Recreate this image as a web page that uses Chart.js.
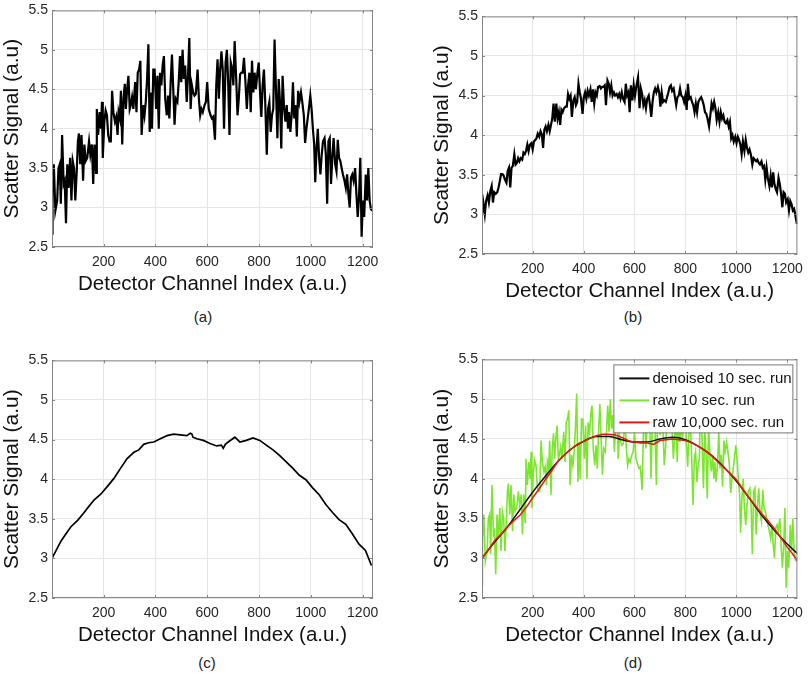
<!DOCTYPE html>
<html>
<head>
<meta charset="utf-8">
<script src="https://cdn.jsdelivr.net/npm/chart.js@4.4.1/dist/chart.umd.min.js"></script>
<style>
  body { margin: 0; background: #fff; width: 810px; height: 673px; position: relative; overflow: hidden;
         font-family: "Liberation Sans", Arial, sans-serif; }
  canvas { position: absolute; }
  .cap { position: absolute; font-size: 15px; color: #222; transform: translate(-50%, -50%); }
</style>
</head>
<body>
<canvas id="pa"></canvas>
<canvas id="pb"></canvas>
<canvas id="pc"></canvas>
<canvas id="pd"></canvas>
<div class="cap" style="left:203px;top:316px">(a)</div>
<div class="cap" style="left:633px;top:316px">(b)</div>
<div class="cap" style="left:207px;top:662px">(c)</div>
<div class="cap" style="left:633px;top:662px">(d)</div>

<script>
/* ---- axes ---- */
var xTicks = [200, 400, 600, 800, 1000, 1200];
var yTicks = [2.5, 3, 3.5, 4, 4.5, 5, 5.5];
var xTitle = 'Detector Channel Index (a.u.)';
var yTitle = 'Scatter Signal (a.u)';

/* ---- raw 10 sec. run: panel (a) and green line in (d) ---- */
var rawCh = [1,3,8,14,21,26,31,35,40,46,50,55,60,65,71,76,81,86,91,97,101,105,110,115,121,126,131,137,144,149,155,160,165,171,174,179,185,190,194,197,
  203,208,213,218,223,228,233,238,244,249,254,258,263,267,272,277,282,286,291,296,301,305,310,315,322,327,332,337,342,347,353,358,363,368,373,378,383,387,392,397,
  403,408,413,418,423,428,433,438,444,449,454,459,464,469,474,479,485,490,495,500,505,510,515,521,526,531,536,541,546,551,556,563,568,573,578,583,590,595,600,606,
  613,618,623,630,635,640,645,650,655,660,665,671,676,681,686,691,697,701,706,712,717,722,727,732,737,742,747,753,758,763,768,773,778,783,788,794,799,804,809,814,
  819,824,830,835,840,845,850,855,860,865,871,876,881,886,891,897,902,907,912,916,921,926,931,936,941,946,951,956,962,967,973,978,983,988,994,998,1003,1008,1013,1017,
  1022,1027,1032,1037,1042,1047,1053,1058,1063,1068,1073,1078,1083,1088,1094,1099,1104,1109,1114,1119,1124,1130,1135,1140,1145,1150,1155,1160,1165,1171,1176,1181,1186,1191,1196,1201,1206,1212,1217,1222,1227,1232,1238];
var rawSignal = [2.67,3.25,3.55,2.96,3.09,3.5,3.55,3.05,3.92,3.3,3.34,2.8,3.55,3.25,3.63,3.09,3.59,3.5,3.09,3.5,3.84,3.94,3.55,3.92,3.34,3.8,3.59,3.63,3.84,3.67,3.8,3.3,3.8,3.44,4.25,3.92,4.21,4.0,4.34,3.63,
  4.09,4.23,4.17,3.92,3.84,3.84,4.48,4.21,4.09,4.15,3.92,4.21,4.13,4.48,3.8,4.38,4.57,4.25,4.5,4.67,4.25,4.3,4.4,4.25,4.59,4.21,4.71,4.75,4.86,3.92,4.3,4.17,4.34,4.63,5.07,3.96,4.46,4.0,4.75,4.75,
  4.25,4.67,4.0,4.71,4.55,4.8,4.92,4.38,4.17,4.42,4.13,4.59,4.94,4.5,4.05,4.38,4.34,4.59,4.92,4.59,5.0,4.63,4.8,4.34,4.67,5.15,4.25,4.55,4.46,4.42,4.44,4.75,4.38,4.17,4.25,4.21,4.3,4.34,4.59,4.25,
  4.17,4.13,4.15,3.86,4.55,4.88,4.38,4.75,4.98,4.75,4.0,4.84,5.0,4.59,3.92,4.84,4.75,4.55,5.11,4.63,4.17,4.38,4.69,4.71,4.71,4.9,4.63,4.25,4.55,4.71,4.21,4.86,4.46,4.71,4.5,4.71,4.84,4.46,4.15,4.55,
  4.75,4.34,3.67,4.25,4.34,3.96,4.17,4.25,5.13,4.55,3.88,4.63,4.34,3.75,4.67,4.25,4.09,4.3,4.0,4.21,3.96,4.17,4.59,4.13,4.3,3.9,4.48,4.34,4.46,4.34,4.17,3.82,4.0,4.13,4.3,4.42,4.25,4.0,3.8,3.32,
  3.75,4.0,3.63,3.42,3.67,3.84,3.88,3.67,3.05,3.84,3.88,3.3,3.63,3.88,3.55,3.46,3.86,3.63,3.59,3.5,3.42,3.34,3.25,3.42,3.17,3.0,3.38,3.42,3.34,3.5,3.17,2.88,3.13,3.63,2.63,3.09,2.88,3.42,3.09,3.5,3.09,2.98,2.96];

/* ---- panel (b) ---- */
var midCh = [1,6,12,17,23,28,34,39,44,49,55,61,66,71,76,81,86,91,97,102,107,112,117,122,128,133,138,143,148,153,159,164,169,174,179,184,189,195,200,205,
  210,215,220,226,231,236,241,246,251,256,262,267,272,277,282,287,293,298,303,308,313,318,323,329,334,339,344,349,354,360,365,370,375,380,385,390,396,401,406,411,
  416,421,427,432,437,442,447,452,457,463,468,473,478,483,488,494,499,504,509,514,519,524,530,535,540,545,550,555,561,566,571,576,581,586,592,597,602,607,614,620,
  625,630,635,640,645,650,656,661,666,671,676,681,686,692,697,702,707,712,717,723,728,733,738,743,748,754,759,764,769,774,779,784,790,795,800,805,810,815,821,826,
  831,836,841,846,851,857,862,867,872,877,882,887,893,898,903,908,913,918,923,929,934,939,944,949,954,959,965,970,975,980,985,990,996,1001,1006,1011,1016,1021,1026,1032,
  1037,1042,1047,1052,1057,1063,1068,1073,1078,1083,1088,1093,1099,1104,1109,1114,1119,1124,1130,1135,1140,1145,1150,1155,1160,1166,1171,1176,1181,1186,1191,1196,1202,1207,1212,1217,1222,1227,1232,1238];
var midSignal = [3.01,3.15,3.0,3.17,3.24,3.15,3.3,3.36,3.15,3.28,3.26,3.28,3.34,3.42,3.51,3.51,3.49,3.44,3.4,3.55,3.59,3.34,3.59,3.61,3.76,3.63,3.65,3.71,3.67,3.71,3.69,3.78,3.76,3.8,3.88,3.8,3.88,3.9,3.82,3.92,
  3.94,3.96,4.02,3.98,4.05,4.01,3.84,4.07,4.11,4.05,4.13,4.05,4.13,4.21,4.4,4.17,4.4,4.21,4.29,4.13,4.32,4.29,4.34,4.36,4.36,4.52,4.46,4.5,4.23,4.44,4.48,4.38,4.42,4.65,4.54,4.46,4.27,4.48,4.54,4.46,
  4.56,4.5,4.58,4.42,4.58,4.4,4.54,4.5,4.61,4.62,4.59,4.61,4.61,4.63,4.38,4.69,4.65,4.54,4.63,4.5,4.54,4.5,4.52,4.48,4.52,4.46,4.54,4.46,4.42,4.65,4.5,4.54,4.29,4.63,4.44,4.63,4.5,4.61,4.73,4.34,
  4.59,4.52,4.38,4.44,4.34,4.46,4.5,4.38,4.23,4.42,4.54,4.59,4.54,4.61,4.54,4.36,4.54,4.42,4.44,4.42,4.48,4.54,4.61,4.63,4.56,4.59,4.48,4.38,4.48,4.5,4.59,4.5,4.48,4.42,4.5,4.32,4.65,4.46,4.48,4.42,
  4.38,4.29,4.4,4.29,4.42,4.46,4.48,4.44,4.38,4.29,4.27,4.21,4.11,4.25,4.4,4.34,4.42,4.34,4.19,4.29,4.17,4.29,4.21,4.25,4.17,4.15,4.19,4.11,4.17,3.96,4.0,3.92,3.98,3.9,3.98,3.94,3.88,3.76,3.92,3.8,
  3.94,3.84,3.78,3.82,3.76,3.63,3.71,3.69,3.67,3.69,3.65,3.63,3.67,3.59,3.61,3.44,3.59,3.46,3.36,3.49,3.34,3.53,3.38,3.32,3.28,3.46,3.38,3.26,3.09,3.28,3.26,3.15,3.19,3.05,3.17,3.13,3.05,3.07,2.99,2.88];

/* ---- panel (c) ---- */
var longCh = [1,17,36,55,74,100,125,144,164,189,215,240,266,291,317,336,355,374,394,419,445,470,496,521,535,541,545,560,585,611,636,655,662,670,681,707,726,751,777,803,
  828,854,879,905,930,956,982,1007,1033,1058,1084,1109,1135,1160,1186,1211,1234];
var longSignal = [3.0,3.1,3.22,3.31,3.4,3.48,3.58,3.66,3.74,3.81,3.91,4.01,4.14,4.26,4.34,4.37,4.44,4.46,4.47,4.51,4.55,4.57,4.56,4.55,4.58,4.57,4.53,4.51,4.49,4.45,4.42,4.43,4.39,4.44,4.47,4.53,4.47,4.49,4.52,4.49,
  4.43,4.37,4.3,4.22,4.14,4.05,3.99,3.89,3.8,3.68,3.58,3.49,3.43,3.31,3.18,3.1,2.91];

/* ---- panel (d): denoised 10 sec. run and raw 10,000 sec. run ---- */
var denoisedCh = [1,50,100,150,200,250,300,350,400,450,500,550,600,650,700,750,800,850,900,950,1000,1050,1100,1150,1200,1240];
var denoisedSignal = [3.0,3.2,3.39,3.61,3.83,4.03,4.22,4.37,4.47,4.53,4.53,4.49,4.46,4.46,4.5,4.52,4.49,4.41,4.3,4.15,3.97,3.76,3.54,3.35,3.18,3.06];
var refCh = [1,25,50,75,100,125,150,175,200,225,250,275,300,325,350,375,400,425,450,475,500,525,550,575,600,625,650,675,700,725,750,775,800,825,850,875,900,925,950,975,
  1000,1025,1050,1075,1100,1125,1150,1175,1200,1220,1240];
var refSignal = [3.0,3.1,3.22,3.3,3.39,3.47,3.54,3.64,3.76,3.87,3.99,4.1,4.22,4.3,4.37,4.43,4.47,4.51,4.54,4.56,4.56,4.55,4.52,4.48,4.46,4.45,4.45,4.43,4.48,4.49,4.5,4.49,4.48,4.45,4.41,4.36,4.3,4.22,4.14,4.07,
  3.99,3.87,3.76,3.66,3.56,3.47,3.37,3.26,3.14,3.06,2.97];

var legendLabels = ['denoised 10 sec. run', 'raw 10 sec. run', 'raw 10,000 sec. run'];
var legendColors = ['#111111', '#7ce62e', '#e8170f'];

var FONT = '"Liberation Sans", Arial, sans-serif';

function pts(xs, ys) {
  return xs.map(function(x, i) { return { x: x, y: ys[i] }; });
}

// MATLAB-like box with small inward ticks
var framePlugin = {
  id: 'frame',
  afterDatasetsDraw: function(chart) {
    var a = chart.chartArea, ctx = chart.ctx;
    var sx = chart.scales.x, sy = chart.scales.y;
    ctx.save();
    ctx.strokeStyle = '#858585';
    ctx.lineWidth = 1;
    ctx.strokeRect(a.left + 0.5, a.top + 0.5, a.right - a.left - 1, a.bottom - a.top - 1);
    ctx.beginPath();
    xTicks.forEach(function(v) {
      var p = Math.round(sx.getPixelForValue(v)) + 0.5;
      ctx.moveTo(p, a.bottom); ctx.lineTo(p, a.bottom - 3);
      ctx.moveTo(p, a.top); ctx.lineTo(p, a.top + 3);
    });
    yTicks.forEach(function(v) {
      var p = Math.round(sy.getPixelForValue(v)) + 0.5;
      ctx.moveTo(a.left, p); ctx.lineTo(a.left + 3, p);
      ctx.moveTo(a.right, p); ctx.lineTo(a.right - 3, p);
    });
    ctx.stroke();
    ctx.restore();
  }
};

// legend box drawn inside the plot, top right
var boxLegend = {
  id: 'boxLegend',
  afterDraw: function(chart) {
    if (!chart.options.plugins.boxLegend || !chart.options.plugins.boxLegend.show) return;
    var a = chart.chartArea, ctx = chart.ctx;
    var bx = a.right - 184, by = a.top + 5, bw = 179, bh = 68;
    ctx.save();
    ctx.fillStyle = '#fff';
    ctx.fillRect(bx, by, bw, bh);
    ctx.strokeStyle = '#777';
    ctx.lineWidth = 1;
    ctx.strokeRect(bx + 0.5, by + 0.5, bw, bh);
    ctx.font = '15px ' + FONT;
    ctx.textBaseline = 'middle';
    legendLabels.forEach(function(lbl, i) {
      var y = by + 14 + i * 22;
      ctx.strokeStyle = legendColors[i];
      ctx.lineWidth = 2;
      ctx.beginPath(); ctx.moveTo(bx + 6, y); ctx.lineTo(bx + 36, y); ctx.stroke();
      ctx.fillStyle = '#111';
      ctx.fillText(lbl, bx + 39, y);
    });
    ctx.restore();
  }
};

function makePanel(id, area, datasets, legend) {
  var left = area.l - 52, top = area.t - 9;
  var right = Math.min(810, area.r + 27);
  var w = right - left, h = area.b + 50 - top;
  var cv = document.getElementById(id);
  cv.width = w; cv.height = h;
  cv.style.left = left + 'px'; cv.style.top = top + 'px';
  cv.style.width = w + 'px'; cv.style.height = h + 'px';

  new Chart(cv, {
    type: 'line',
    data: { datasets: datasets },
    plugins: [framePlugin, boxLegend],
    options: {
      responsive: false,
      animation: false,
      layout: { padding: { left: 0, top: 9, right: right - area.r, bottom: 0 } },
      elements: { point: { radius: 0 }, line: { tension: 0 } },
      plugins: { legend: { display: false }, tooltip: { enabled: false }, boxLegend: { show: legend } },
      scales: {
        x: {
          type: 'linear', min: 1, max: 1240,
          afterBuildTicks: function(s) { s.ticks = xTicks.map(function(v) { return { value: v }; }); },
          afterFit: function(s) { s.height = 50; },
          grid: { color: '#e6e6e6', drawTicks: false },
          border: { display: false },
          ticks: { padding: 7, color: '#262626', autoSkip: false, maxRotation: 0,
                   font: { family: FONT, size: 14 }, callback: function(v) { return String(v); } },
          title: { display: true, text: xTitle, color: '#111', padding: { top: 0, bottom: 0 },
                   font: { family: FONT, size: 20.5 } }
        },
        y: {
          min: 2.5, max: 5.5,
          afterBuildTicks: function(s) { s.ticks = yTicks.map(function(v) { return { value: v }; }); },
          afterFit: function(s) { s.width = 52; },
          grid: { color: '#e6e6e6', drawTicks: false },
          border: { display: false },
          ticks: { padding: 4, color: '#262626', autoSkip: false,
                   font: { family: FONT, size: 14 }, callback: function(v) { return String(v); } },
          title: { display: true, text: yTitle, color: '#111', padding: { top: 0, bottom: 0 },
                   font: { family: FONT, size: 21 } }
        }
      }
    }
  });
}

makePanel('pa', { l: 52, t: 7, r: 373, b: 247 }, [
  { data: pts(rawCh, rawSignal), borderColor: '#000', borderWidth: 2.2 }
], false);

makePanel('pb', { l: 482, t: 13, r: 803, b: 254 }, [
  { data: pts(midCh, midSignal), borderColor: '#000', borderWidth: 2.2 }
], false);

makePanel('pc', { l: 52, t: 357, r: 373, b: 598 }, [
  { data: pts(longCh, longSignal), borderColor: '#000', borderWidth: 1.7 }
], false);

makePanel('pd', { l: 482, t: 356, r: 803, b: 598 }, [
  { label: legendLabels[0], data: pts(denoisedCh, denoisedSignal), borderColor: legendColors[0], borderWidth: 1.5,
    cubicInterpolationMode: 'monotone', order: 1 },
  { label: legendLabels[1], data: pts(rawCh, rawSignal), borderColor: legendColors[1], borderWidth: 1.6, order: 2 },
  { label: legendLabels[2], data: pts(refCh, refSignal), borderColor: legendColors[2], borderWidth: 1.5, order: 0 }
], true);
</script>
</body>
</html>
